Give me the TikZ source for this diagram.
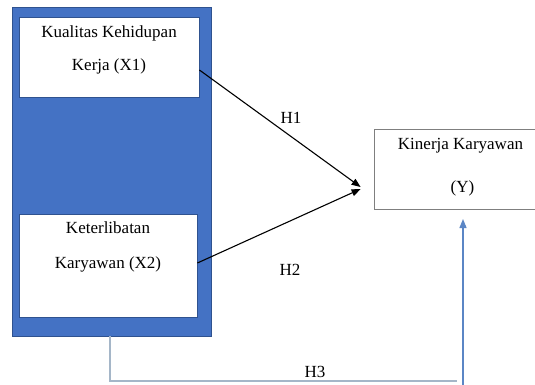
\documentclass[tikz,border=0pt]{standalone}
\usepackage{fontspec}
\setmainfont{Liberation Serif}
\usetikzlibrary{arrows.meta,calc}
\definecolor{panelblue}{RGB}{68,114,196}
\definecolor{paneledge}{RGB}{47,82,143}
\definecolor{hthree}{RGB}{165,182,200}
\definecolor{arrowblue}{RGB}{91,134,197}
\definecolor{boxgray}{RGB}{127,127,127}
\tikzset{
  whitebox/.style={draw=paneledge,fill=white,line width=0.8pt,inner sep=0pt},
  ybox/.style={draw=boxgray,fill=white,line width=0.8pt,inner sep=0pt},
  txt/.style={font=\fontsize{17}{20}\selectfont,inner sep=0pt},
  hyp/.style={draw=black,line width=1.1pt,-{Triangle[length=9pt,width=7pt]}},
}
\begin{document}
\begin{tikzpicture}[x=1pt,y=1pt]
\useasboundingbox (0,0) rectangle (535,-385);
\fill[white] (0,0) rectangle (535,-385);
% blue panel
\node[draw=paneledge,fill=panelblue,line width=0.8pt,minimum width=199pt,minimum height=329pt,inner sep=0pt] (panel) at (111.5,-171.5) {};
% X1
\node[whitebox,minimum width=180pt,minimum height=80pt] (x1) at (109,-57) {};
\node[txt] (x1a) at (109,-33) {Kualitas Kehidupan};
\node[txt] (x1b) at (109,-66) {Kerja (X1)};
% X2
\node[whitebox,minimum width=178pt,minimum height=103pt] (x2) at (108,-265.5) {};
\node[txt] (x2a) at (108,-228) {Keterlibatan};
\node[txt] (x2b) at (108,-264) {Karyawan (X2)};
% Y (extends beyond right edge)
\begin{scope}
\clip (0,0) rectangle (535,-385);
\node[ybox,minimum width=180pt,minimum height=80pt] (y) at (464,-169) {};
\end{scope}
\node[txt] (ya) at (460.5,-146) {Kinerja Karyawan};
\node[txt] (yb) at (462.5,-188) {(Y)};
% arrows
\coordinate (h1s) at ($(x1.east)+(0,-13)$);
\coordinate (h1e) at ($(y.west)+(-13,-18)$);
\coordinate (h2s) at ($(x2.east)+(0,2.5)$);
\coordinate (h2e) at ($(y.west)+(-13,-20)$);
\draw[hyp] (h1s) -- (h1e);
\draw[hyp] (h2s) -- (h2e);
\node[txt] (lh1) at (291,-118) {H1};
\node[txt] (lh2) at (290,-270) {H2};
% H3
\coordinate (h3a) at (110,-336);
\coordinate (h3b) at (110,-381);
\coordinate (h3c) at (457,-381);
\draw[hthree,line width=1.2pt] (h3a) -- (h3b) -- (h3c);
\coordinate (h3up) at (463,-386);
\coordinate (h3tip) at (463,-219);
\draw[arrowblue,line width=1.3pt,-{Triangle[length=9pt,width=7pt]}] (h3up) -- (h3tip);
\node[txt] (lh3) at (315,-372) {H3};
\end{tikzpicture}
\end{document}
